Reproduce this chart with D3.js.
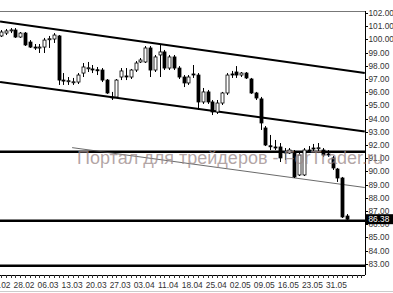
<!DOCTYPE html>
<meta charset="utf-8">
<style>
body { margin: 0; background: #fff; }
text { font-family: "Liberation Sans", Arial, sans-serif; }
</style>
<body>
<script src="https://cdn.jsdelivr.net/npm/d3@7"></script>
<script>

// daily candles, oldest first
var opens  = [100.26,100.48,100.70,100.71,100.18,100.48,99.80,99.42,99.40,99.42,100.03,100.03,100.26,96.92,96.85,96.77,96.77,97.45,97.83,97.76,
              97.70,97.68,96.92,95.64,95.64,97.15,97.23,97.15,97.68,98.29,98.29,99.35,97.68,98.82,99.05,97.83,98.67,97.83,97.15,96.70,
              97.38,97.30,95.26,96.02,95.26,94.50,95.18,95.94,97.38,97.53,97.30,97.45,97.00,95.94,95.49,93.29,91.94,91.85,91.85,91.47,
              91.39,91.47,89.73,89.73,91.62,91.77,91.77,91.62,91.32,91.02,90.18,89.50,86.62];
var highs  = [100.71,100.79,100.86,100.86,100.56,100.56,99.95,99.65,99.65,100.11,100.26,100.48,100.33,97.45,97.15,97.08,97.45,98.21,98.29,98.06,
              97.91,97.83,97.00,96.02,97.00,97.83,97.83,97.76,98.36,98.59,99.50,99.50,98.82,99.58,99.20,98.82,98.82,97.98,97.30,97.30,
              98.06,97.45,96.32,96.17,95.41,95.41,96.02,97.45,97.61,97.98,97.53,97.53,97.08,96.02,95.64,93.44,92.76,92.38,92.15,91.77,
              91.77,91.62,91.39,91.77,91.92,92.08,92.15,91.77,91.62,91.17,90.26,89.58,86.77];
var lows   = [100.18,100.33,100.48,100.11,100.11,99.50,99.35,99.20,98.97,98.97,99.35,99.73,96.55,96.55,96.55,96.55,96.62,97.15,97.53,97.45,
              97.30,96.77,95.87,95.41,95.56,96.92,96.92,97.00,97.53,98.21,98.21,97.15,97.53,97.15,97.68,97.68,97.68,97.00,96.39,96.55,
              97.08,94.65,95.11,95.11,94.27,94.35,95.03,95.79,97.08,97.08,97.15,97.00,95.87,95.41,93.14,91.92,91.62,91.62,90.71,90.86,
              91.32,89.50,89.65,89.65,91.47,91.47,91.39,91.09,91.09,90.11,89.20,86.47,86.17];
var closes = [100.56,100.64,100.72,100.18,100.48,99.58,99.42,99.40,99.42,99.95,100.05,100.33,96.92,96.90,96.87,96.79,97.30,97.91,97.85,97.74,
              97.68,96.92,95.94,95.62,96.92,97.61,97.21,97.68,98.21,98.44,99.35,97.68,98.67,99.05,97.83,98.67,97.83,97.15,96.70,97.15,
              97.36,95.26,96.02,95.26,94.50,95.18,95.94,97.30,97.36,97.30,97.45,97.08,95.94,95.56,93.67,92.00,91.92,91.83,91.02,91.45,
              91.62,89.58,91.24,91.62,91.60,91.75,91.79,91.24,91.30,90.26,89.50,86.55,86.38];

var dateTicks  = [0, 5, 10, 15, 20, 25, 30, 35, 40, 45, 50, 55, 60, 65, 70];
var dateLabels = ["21.02","28.02","06.03","13.03","20.03","27.03","03.04","11.04","18.04","25.04","02.05","09.05","16.05","23.05","31.05"];

var priceTicks = d3.range(83, 103, 1);

// drawn lines: [index1, price1, index2, price2]
var channelLines = [[-0.2, 101.36, 75.7, 97.45], [-0.2, 96.77, 75.7, 93.02]];
var levels = [91.49, 86.27, 82.85];
var thinTrend = [14.8, 91.80, 75.7, 88.78];

var lastPrice = closes[closes.length - 1];

var width = 393, height = 293,
    plotL = 0, plotR = 365, plotT = 11, plotB = 275;

var x = d3.scaleLinear().domain([0, 72]).range([1, 347]);
var y = d3.scaleLinear().domain([83, 102]).range([263.8, 13]);

var svg = d3.select("body").append("svg")
    .attr("width", width)
    .attr("height", height);

svg.append("defs").append("clipPath").attr("id", "plotclip")
  .append("rect").attr("x", plotL).attr("y", plotT).attr("width", plotR - plotL).attr("height", plotB - plotT);

// frame
svg.append("line").attr("x1", plotL).attr("x2", plotR).attr("y1", plotT + 0.5).attr("y2", plotT + 0.5)
    .attr("stroke", "#777");
svg.append("line").attr("x1", plotL).attr("x2", width).attr("y1", 291.5).attr("y2", 291.5)
    .attr("stroke", "#ccc");

var plot = svg.append("g").attr("clip-path", "url(#plotclip)");

plot.selectAll(".level").data(levels).enter().append("line")
    .attr("x1", plotL).attr("x2", plotR)
    .attr("y1", y).attr("y2", y)
    .attr("stroke", "#000").attr("stroke-width", 2.5);

plot.selectAll(".channel").data(channelLines).enter().append("line")
    .attr("x1", function(d) { return x(d[0]); })
    .attr("y1", function(d) { return y(d[1]); })
    .attr("x2", function(d) { return x(d[2]); })
    .attr("y2", function(d) { return y(d[3]); })
    .attr("stroke", "#000").attr("stroke-width", 2);

plot.append("line")
    .attr("x1", x(thinTrend[0])).attr("y1", y(thinTrend[1]))
    .attr("x2", x(thinTrend[2])).attr("y2", y(thinTrend[3]))
    .attr("stroke", "#444").attr("stroke-width", 0.8);

// candles
var candles = plot.selectAll(".candle").data(opens).enter().append("g");

candles.append("line")
    .attr("x1", function(d, i) { return Math.round(x(i)) + 0.5; })
    .attr("x2", function(d, i) { return Math.round(x(i)) + 0.5; })
    .attr("y1", function(d, i) { return y(highs[i]); })
    .attr("y2", function(d, i) { return y(lows[i]); })
    .attr("stroke", "#000");

candles.append("rect")
    .attr("x", function(d, i) { return Math.round(x(i)) - 1; })
    .attr("width", 3)
    .attr("y", function(d, i) { return y(Math.max(d, closes[i])); })
    .attr("height", function(d, i) { return Math.max(1, Math.abs(y(d) - y(closes[i]))); })
    .attr("fill", function(d, i) { return closes[i] >= d ? "#fff" : "#000"; })
    .attr("stroke", "#000").attr("stroke-width", 0.8);

// right price axis
var yAxis = svg.append("g");
yAxis.append("line").attr("x1", plotR + 0.5).attr("x2", plotR + 0.5).attr("y1", plotT).attr("y2", plotB)
    .attr("stroke", "#000");
yAxis.selectAll(".tick").data(priceTicks).enter().append("line")
    .attr("x1", plotR).attr("x2", plotR + 3)
    .attr("y1", function(d) { return Math.round(y(d)) + 0.5; })
    .attr("y2", function(d) { return Math.round(y(d)) + 0.5; })
    .attr("stroke", "#000");
yAxis.selectAll(".lbl").data(priceTicks).enter().append("text")
    .attr("x", plotR + 3.5)
    .attr("y", function(d) { return y(d) + 3; })
    .attr("font-size", 8.3)
    .attr("fill", "#333")
    .text(function(d) { return d3.format(".2f")(d); });

// last price box
yAxis.append("rect")
    .attr("x", plotR + 1).attr("y", y(lastPrice) - 5)
    .attr("width", width - plotR - 1).attr("height", 10)
    .attr("fill", "#000");
yAxis.append("text")
    .attr("x", plotR + 3.5).attr("y", y(lastPrice) + 3.2)
    .attr("font-size", 8.3).attr("fill", "#fff")
    .text(d3.format(".2f")(lastPrice));

// bottom date axis
var xAxis = svg.append("g");
xAxis.append("line").attr("x1", plotL).attr("x2", plotR).attr("y1", plotB + 0.5).attr("y2", plotB + 0.5)
    .attr("stroke", "#000");
xAxis.selectAll(".tick").data(d3.range(0, 76)).enter().append("line")
    .attr("x1", function(d) { return Math.round(x(d)) + 0.5; })
    .attr("x2", function(d) { return Math.round(x(d)) + 0.5; })
    .attr("y1", plotB).attr("y2", plotB + 3)
    .attr("stroke", "#333");
xAxis.selectAll(".lbl").data(dateTicks).enter().append("text")
    .attr("x", function(d) { return x(d) - 1; })
    .attr("y", 288)
    .attr("text-anchor", "middle")
    .attr("font-size", 8.4)
    .attr("fill", "#333")
    .text(function(d, i) { return dateLabels[i]; });

// watermark, over everything
svg.append("text")
    .attr("x", 77).attr("y", 164)
    .attr("font-size", 18)
    .attr("textLength", 306)
    .attr("lengthAdjust", "spacing")
    .attr("fill", "#9a8888")
    .attr("fill-opacity", 0.75)
    .text("Портал для трейдеров - ForTrader.ru");

</script>
</body>
